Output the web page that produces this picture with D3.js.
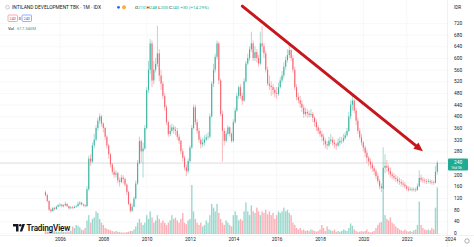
<!DOCTYPE html>
<html>
<head>
<meta charset="utf-8">
<script src="https://cdn.jsdelivr.net/npm/d3@7"></script>
<style>
  body { margin: 0; background: #fff; }
  svg { display: block; font-family: Roboto, "Noto Sans", sans-serif; }
</style>
</head>
<body>
<div class="chart"></div>
<script>
// monthly candles, May 2005 .. Jun 2023
var firstOpen = 140;
var closes = [
  130,110,80,75,85,82,90,95,
  97,92,95,100,92,85,88,86,90,92,100,104,
  98,95,92,150,255,245,300,320,360,385,400,375,
  360,330,300,270,235,210,200,205,180,175,190,185,
  166,140,100,76,90,118,170,240,315,280,290,360,
  490,560,650,523,560,580,616,540,512,470,431,380,
  339,350,362,355,350,330,316,280,258,225,212,247,
  293,360,431,380,350,320,304,310,320,328,330,400,
  512,560,604,650,523,408,350,316,340,362,340,316,
  380,420,470,500,470,454,520,581,600,630,650,600,
  620,600,581,650,640,616,560,512,505,500,490,480,
  477,500,523,540,570,593,610,627,600,560,500,466,
  455,443,430,408,415,410,405,408,395,380,362,350,
  339,330,316,304,300,316,320,310,304,300,310,316,
  316,325,335,350,400,440,454,420,385,350,328,310,
  293,275,258,245,235,222,212,195,178,160,154,224,
  230,224,212,201,195,189,185,178,175,170,166,160,
  152,149,150,148,149,147,160,189,183,180,178,176,
  178,175,174,172,210,240
];
var highs = [
  145,135,112,85,90,90,94,100,
  102,100,98,108,102,94,92,92,94,96,108,110,
  106,100,98,160,265,270,310,340,370,395,410,405,
  380,365,335,305,275,240,225,215,210,190,200,198,
  190,170,145,105,100,125,180,250,330,320,310,370,
  500,590,665,660,590,600,710,630,560,520,480,440,
  385,370,375,370,365,360,340,320,290,265,235,255,
  300,370,440,440,390,360,330,325,335,340,345,410,
  520,580,615,660,655,530,420,360,350,370,365,345,
  390,430,480,505,510,480,530,590,615,640,690,660,
  640,630,610,690,710,650,625,570,540,520,510,500,
  500,515,535,555,585,605,630,645,630,610,570,510,
  480,470,455,440,430,425,420,425,415,400,390,370,
  360,350,340,325,315,330,340,330,320,310,325,330,
  330,340,345,360,415,455,470,460,430,395,360,340,
  315,300,285,265,255,245,230,220,205,185,170,294,
  270,250,235,225,210,205,200,195,190,185,180,175,
  165,160,158,156,156,155,170,215,200,192,188,185,
  186,184,182,180,230,248
];
var lows = [
  125,105,75,70,74,78,80,88,
  90,88,88,92,88,80,82,82,84,86,90,96,
  94,90,88,90,145,230,240,290,315,350,375,365,
  345,320,290,255,225,200,190,190,170,160,170,170,
  160,130,95,70,72,88,115,165,235,240,190,285,
  355,480,545,500,510,550,570,520,490,460,420,370,
  330,332,345,340,335,320,305,270,245,215,195,205,
  240,288,355,370,340,310,290,295,300,315,320,325,
  395,500,550,595,510,400,245,300,310,335,330,310,
  310,375,415,460,460,440,450,515,575,590,620,590,
  590,585,570,575,620,600,550,505,490,470,475,465,
  460,470,495,515,530,560,585,600,590,550,490,455,
  445,430,415,395,400,395,395,398,380,365,350,340,
  330,315,300,290,285,295,305,300,290,285,295,300,
  305,310,320,330,345,390,420,410,370,340,320,300,
  280,260,240,230,220,210,200,185,170,150,140,150,
  205,210,200,190,185,180,175,170,165,160,158,152,
  145,142,144,142,143,140,145,158,175,172,170,168,
  170,168,166,165,170,200
];
// volume in millions
var volumes = [
  40,30,50,40,30,40,30,30,
  30,40,30,25,35,30,45,100,80,120,110,90,
  60,50,80,180,250,150,200,220,300,280,200,150,
  120,80,70,60,50,40,30,40,30,25,20,20,
  20,25,30,40,40,60,100,150,200,150,120,150,
  250,200,300,220,150,180,250,200,150,180,150,120,
  150,180,250,200,220,180,150,200,280,150,130,180,
  200,650,300,200,150,120,150,100,120,180,150,250,
  400,350,300,400,280,200,150,120,180,150,120,100,
  250,300,250,180,200,180,300,420,300,250,380,300,
  280,350,300,250,300,280,320,260,300,250,280,200,
  250,300,280,300,350,300,320,280,250,150,120,80,
  60,80,50,60,40,50,40,60,50,40,30,40,
  60,120,80,40,100,60,50,40,60,30,40,30,
  40,60,50,40,80,140,110,60,40,30,30,40,
  30,40,60,30,20,30,40,80,120,150,160,620,
  250,200,180,220,150,130,100,80,60,50,40,60,
  40,30,40,30,50,60,120,430,120,80,60,50,
  60,50,80,60,350,617
];
var yearTicks = [2006, 2008, 2010, 2012, 2014, 2016, 2018, 2020, 2022, 2024];
var priceTicks = [0,40,80,120,160,200,240,280,320,360,400,440,480,520,560,600,640,680,720];
// trend arrow drawn on the chart: [year, month(0-11), price]
var arrowFrom = [2014, 5, 778];
var arrowTo = [2022, 9, 280];

var width = 474, height = 247;
var paneRight = 447, paneBottom = 235;
var upColor = "#22ab94", downColor = "#f7525f";

var candles = closes.map(function(c, i) {
  return {
    date: new Date(2005, 4 + i, 1),
    open: i ? closes[i - 1] : firstOpen,
    high: highs[i], low: lows[i], close: c, vol: volumes[i]
  };
});

var svg = d3.select(".chart").append("svg")
  .attr("width", width).attr("height", height);

var x = d3.scaleTime()
  .domain([new Date(2006, 0, 1), new Date(2024, 0, 1)])
  .range([60, 450]);
var y = d3.scaleLinear().domain([0, 720]).range([233, 23]);
var yVol = d3.scaleLinear()
  .domain([0, d3.max(volumes)]).range([paneBottom - 1, 185]);

// grid
svg.append("g").selectAll("line").data(priceTicks).enter().append("line")
  .attr("x1", 0).attr("x2", paneRight)
  .attr("y1", function(d) { return y(d) + 0.5; }).attr("y2", function(d) { return y(d) + 0.5; })
  .attr("stroke", "#f2f3f6").attr("stroke-width", 0.6);
svg.append("g").selectAll("line").data(yearTicks).enter().append("line")
  .attr("x1", function(d) { return x(new Date(d, 0, 1)); })
  .attr("x2", function(d) { return x(new Date(d, 0, 1)); })
  .attr("y1", 0).attr("y2", paneBottom)
  .attr("stroke", "#f2f3f6").attr("stroke-width", 0.6);

// volume
svg.append("g").selectAll("rect").data(candles).enter().append("rect")
  .attr("x", function(d) { return x(d.date) - 0.7; })
  .attr("width", 1.4)
  .attr("y", function(d) { return yVol(d.vol); })
  .attr("height", function(d) { return yVol(0) - yVol(d.vol); })
  .attr("fill", function(d) { return d.close >= d.open ? upColor : downColor; })
  .attr("opacity", 0.45);

// current price line
svg.append("line")
  .attr("x1", 0).attr("x2", paneRight)
  .attr("y1", y(240)).attr("y2", y(240))
  .attr("stroke", "#c9ccd4").attr("stroke-width", 0.6);

// candles
var cg = svg.append("g").attr("opacity", 0.88);
cg.selectAll("line").data(candles).enter().append("line")
  .attr("x1", function(d) { return x(d.date); })
  .attr("x2", function(d) { return x(d.date); })
  .attr("y1", function(d) { return y(d.high); })
  .attr("y2", function(d) { return y(d.low); })
  .attr("stroke", function(d) { return d.close >= d.open ? upColor : downColor; })
  .attr("stroke-width", 0.45);
cg.selectAll("rect").data(candles).enter().append("rect")
  .attr("x", function(d) { return x(d.date) - 0.55; })
  .attr("width", 1.1)
  .attr("y", function(d) { return y(Math.max(d.open, d.close)); })
  .attr("height", function(d) { return Math.max(0.6, Math.abs(y(d.open) - y(d.close))); })
  .attr("fill", function(d) { return d.close >= d.open ? upColor : downColor; });

// trend arrow
var ax1 = x(new Date(arrowFrom[0], arrowFrom[1], 1)), ay1 = y(arrowFrom[2]);
var ax2 = x(new Date(arrowTo[0], arrowTo[1], 1)), ay2 = y(arrowTo[2]);
var ang = Math.atan2(ay2 - ay1, ax2 - ax1);
var headLen = 9, headW = 4;
var bx = ax2 - headLen * Math.cos(ang), by = ay2 - headLen * Math.sin(ang);
svg.append("line")
  .attr("x1", ax1).attr("y1", ay1).attr("x2", bx).attr("y2", by)
  .attr("stroke", "#c8161d").attr("stroke-width", 3).attr("stroke-linecap", "round");
svg.append("path")
  .attr("d", "M" + ax2 + "," + ay2 +
    "L" + (bx + headW * Math.sin(ang)) + "," + (by - headW * Math.cos(ang)) +
    "L" + (bx - headW * Math.sin(ang)) + "," + (by + headW * Math.cos(ang)) + "Z")
  .attr("fill", "#c8161d");

// axes frame
svg.append("rect").attr("x", paneRight).attr("y", 0)
  .attr("width", width - paneRight).attr("height", height).attr("fill", "#fff");
svg.append("rect").attr("x", 0).attr("y", paneBottom)
  .attr("width", width).attr("height", height - paneBottom).attr("fill", "#fff");
svg.append("line").attr("x1", paneRight + 0.5).attr("x2", paneRight + 0.5)
  .attr("y1", 0).attr("y2", height).attr("stroke", "#e6e8ee").attr("stroke-width", 0.6);
svg.append("line").attr("x1", 0).attr("x2", width)
  .attr("y1", paneBottom + 0.5).attr("y2", paneBottom + 0.5)
  .attr("stroke", "#e6e8ee").attr("stroke-width", 0.6);

var yAxis = d3.axisRight(y).tickValues(priceTicks).tickSize(0).tickPadding(0);
svg.append("g").attr("transform", "translate(" + (paneRight + 7) + ",0)")
  .call(yAxis)
  .call(function(g) { g.select(".domain").remove(); })
  .selectAll("text")
  .attr("font-size", 4.8).attr("fill", "#131722").attr("font-family", "Roboto");

var xAxis = d3.axisBottom(x)
  .tickValues(yearTicks.map(function(d) { return new Date(d, 0, 1); }))
  .tickFormat(d3.timeFormat("%Y")).tickSize(0).tickPadding(3);
svg.append("g").attr("transform", "translate(0," + paneBottom + ")")
  .call(xAxis)
  .call(function(g) { g.select(".domain").remove(); })
  .selectAll("text")
  .attr("font-size", 4.8).attr("fill", "#131722").attr("font-family", "Roboto");

// currency label at top of price scale
svg.append("rect").attr("x", paneRight + 3).attr("y", 3).attr("width", 16).attr("height", 8)
  .attr("fill", "#fff");
svg.append("text").attr("x", paneRight + 7).attr("y", 8.8)
  .attr("font-size", 4.6).attr("fill", "#131722").text("IDR");

// last price tag
svg.append("rect").attr("x", paneRight + 1).attr("y", y(240) - 4.5)
  .attr("width", 20).attr("height", 12).attr("rx", 1).attr("fill", upColor);
svg.append("text").attr("x", paneRight + 7).attr("y", y(240) + 1.2)
  .attr("font-size", 4.8).attr("fill", "#fff").text("240");
svg.append("text").attr("x", paneRight + 4).attr("y", y(240) + 6)
  .attr("font-size", 3.6).attr("fill", "#fff").text("16d 5h");

// gear icon
svg.append("circle").attr("cx", 467).attr("cy", 241).attr("r", 2.2)
  .attr("fill", "none").attr("stroke", "#787b86").attr("stroke-width", 0.6);

// legend
var lg = svg.append("g");
lg.append("circle").attr("cx", 7.5).attr("cy", 7.2).attr("r", 1.8)
  .attr("fill", "none").attr("stroke", "#9598a1").attr("stroke-width", 0.5);
lg.append("text").attr("x", 12).attr("y", 9).attr("font-size", 4.9).attr("fill", "#131722")
  .text("INTILAND DEVELOPMENT TBK · 1M · IDX");
lg.append("circle").attr("cx", 118.5).attr("cy", 7.3).attr("r", 1.4).attr("fill", "#2962ff");
lg.append("circle").attr("cx", 124).attr("cy", 7.3).attr("r", 2).attr("fill", "#ff9800").attr("opacity", 0.8);
var ohlc = lg.append("text").attr("x", 135).attr("y", 9).attr("font-size", 4.4);
[["O", "210"], ["H", "248"], ["L", "200"], ["C", "240"]].forEach(function(p) {
  ohlc.append("tspan").attr("fill", "#131722").text(p[0]);
  ohlc.append("tspan").attr("fill", upColor).text(p[1] + " ");
});
ohlc.append("tspan").attr("fill", upColor).text("+30 (+14.29%)");

lg.append("rect").attr("x", 8).attr("y", 15).attr("width", 9.5).attr("height", 6.5).attr("rx", 1)
  .attr("fill", "#fff").attr("stroke", "#f7525f").attr("stroke-width", 0.5);
lg.append("text").attr("x", 12.75).attr("y", 19.6).attr("text-anchor", "middle")
  .attr("font-size", 3.8).attr("fill", "#f23645").text("240");
lg.append("text").attr("x", 19.7).attr("y", 19.6).attr("text-anchor", "middle")
  .attr("font-size", 3.8).attr("fill", "#131722").text("0");
lg.append("rect").attr("x", 22).attr("y", 15).attr("width", 9.5).attr("height", 6.5).attr("rx", 1)
  .attr("fill", "#fff").attr("stroke", "#2962ff").attr("stroke-width", 0.5);
lg.append("text").attr("x", 26.75).attr("y", 19.6).attr("text-anchor", "middle")
  .attr("font-size", 3.8).attr("fill", "#2962ff").text("240");

lg.append("text").attr("x", 8).attr("y", 29.5).attr("font-size", 4.2).attr("fill", "#131722").text("Vol");
lg.append("text").attr("x", 17).attr("y", 29.5).attr("font-size", 4.2).attr("fill", upColor).text("617.345M");

// TradingView mark
var tv = svg.append("g").attr("transform", "translate(13,224)");
tv.append("path").attr("d", "M0,0H5.5V7.5H3V2.6H0Z").attr("fill", "#131722");
tv.append("circle").attr("cx", 7.3).attr("cy", 1.3).attr("r", 1.3).attr("fill", "#131722");
tv.append("path").attr("d", "M6.8,7.5L9.4,0H12L9.2,7.5Z").attr("fill", "#131722");
tv.append("text").attr("x", 13.5).attr("y", 7.2).attr("font-size", 8.2).attr("font-weight", 600)
  .attr("fill", "#131722").attr("letter-spacing", -0.2).text("TradingView");
</script>
</body>
</html>
